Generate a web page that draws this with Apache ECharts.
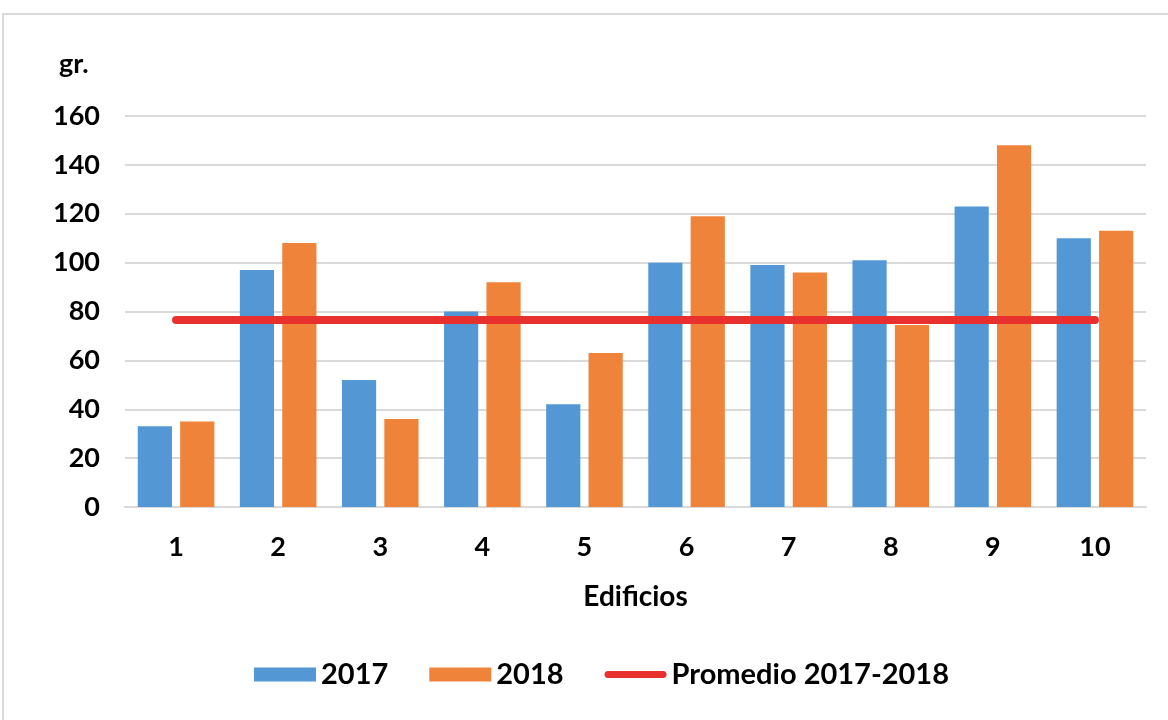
<!DOCTYPE html>
<html>
<head>
<meta charset="utf-8">
<script src="https://cdn.jsdelivr.net/npm/echarts@6/dist/echarts.min.js"></script>
<style>
  html, body { margin: 0; padding: 0; background: #fff; }
  #chart { width: 1168px; height: 720px; }
</style>
</head>
<body>
<div id="chart"></div>
<script>
var edificios = ['1', '2', '3', '4', '5', '6', '7', '8', '9', '10'];
var valores2017 = [33, 97, 52, 80, 42, 100, 99, 101, 123, 110];
var valores2018 = [35, 108, 36, 92, 63, 119, 96, 74.5, 148, 113];
var promedio = [76.5, 76.5, 76.5, 76.5, 76.5, 76.5, 76.5, 76.5, 76.5, 76.5];

var font = 'Lato';
var myChart = echarts.init(document.getElementById('chart'));

var option = {
  animation: false,
  textStyle: { fontFamily: font },
  graphic: [{
    type: 'rect',
    shape: { x: 3, y: 14, width: 1200, height: 760 },
    style: { fill: 'none', stroke: '#d9d9d9', lineWidth: 2 },
    silent: true
  }],
  title: {
    text: 'gr.',
    left: 54,
    top: 46,
    textStyle: { fontFamily: font, fontWeight: 'bold', fontSize: 27, color: '#000' }
  },
  legend: {
    left: 249,
    top: 655,
    itemWidth: 62,
    itemHeight: 14,
    itemGap: 41,
    textStyle: { fontFamily: font, fontWeight: 'bold', fontSize: 29, color: '#000' },
    data: [
      { name: '2017', icon: 'rect' },
      { name: '2018', icon: 'rect' },
      { name: 'Promedio 2017-2018', icon: 'path://M4,0 L66,0 A4,4 0 0 1 66,8 L4,8 A4,4 0 0 1 4,0 Z' }
    ]
  },
  grid: { left: 125, right: 22, top: 116, bottom: 213 },
  xAxis: {
    type: 'category',
    data: edificios,
    name: 'Edificios',
    nameLocation: 'middle',
    nameGap: 76,
    nameTextStyle: { fontFamily: font, fontWeight: 'bold', fontSize: 28, color: '#000' },
    axisLine: { lineStyle: { color: '#d9d9d9', width: 2 } },
    axisTick: { show: false },
    axisLabel: { fontFamily: font, fontWeight: 'bold', fontSize: 27, color: '#000', margin: 27 }
  },
  yAxis: {
    type: 'value',
    min: 0,
    max: 160,
    interval: 20,
    axisLine: { show: false },
    axisTick: { show: false },
    splitLine: { lineStyle: { color: '#d9d9d9', width: 2 } },
    axisLabel: { fontFamily: font, fontWeight: 'bold', fontSize: 27, color: '#000', margin: 25 }
  },
  series: [
    {
      name: '2017',
      type: 'bar',
      data: valores2017,
      barGap: '24%',
      barCategoryGap: '25%',
      itemStyle: { color: '#5398D4' }
    },
    {
      name: '2018',
      type: 'bar',
      data: valores2018,
      itemStyle: { color: '#F0833A' }
    },
    {
      name: 'Promedio 2017-2018',
      type: 'line',
      data: promedio,
      symbol: 'none',
      z: 5,
      color: '#E8302F',
      lineStyle: { color: '#E8302F', width: 8, cap: 'round' }
    }
  ]
};
myChart.setOption(option);
</script>
</body>
</html>
